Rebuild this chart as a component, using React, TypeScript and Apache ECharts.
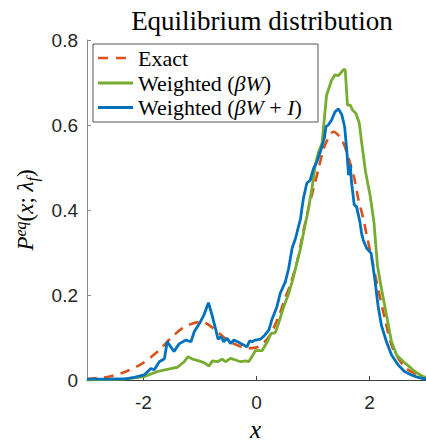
import React, { useEffect, useRef } from "react";
import * as echarts from "echarts";

// Exact equilibrium distribution (dashed orange)
const exactX = [-3.0, -2.87, -2.6, -2.31, -2.02, -1.75, -1.52, -1.31, -1.13, -0.96, -0.84, -0.66, -0.52, -0.34, -0.14, 0.01, 0.22, 0.39, 0.5, 0.6, 0.72, 0.83, 0.92, 1.01, 1.1, 1.19, 1.27, 1.36, 1.51, 1.63, 1.73, 1.8, 1.89, 1.95, 2.04, 2.15, 2.27, 2.39, 2.51, 2.65, 2.86, 3.0];
const exactY = [0.002, 0.004, 0.008, 0.02, 0.039, 0.067, 0.098, 0.122, 0.133, 0.137, 0.129, 0.11, 0.094, 0.082, 0.075, 0.077, 0.102, 0.149, 0.19, 0.225, 0.28, 0.35, 0.404, 0.451, 0.498, 0.545, 0.569, 0.584, 0.565, 0.522, 0.475, 0.427, 0.38, 0.341, 0.286, 0.216, 0.145, 0.082, 0.051, 0.027, 0.012, 0.006];

// Weighted (βW) (green)
const greenX = [-3.0, -2.34, -1.99, -1.75, -1.52, -1.4, -1.28, -1.21, -1.13, -1.02, -0.93, -0.84, -0.78, -0.69, -0.61, -0.55, -0.46, -0.37, -0.28, -0.19, -0.14, -0.08, -0.02, 0.1, 0.19, 0.26, 0.33, 0.39, 0.48, 0.56, 0.63, 0.72, 0.78, 0.86, 0.91, 0.98, 1.04, 1.1, 1.16, 1.24, 1.33, 1.39, 1.45, 1.54, 1.57, 1.61, 1.66, 1.7, 1.76, 1.82, 1.86, 1.93, 2.01, 2.08, 2.14, 2.21, 2.3, 2.39, 2.48, 2.6, 2.71, 2.8, 2.92, 3.0];
const greenY = [0.0, 0.002, 0.008, 0.02, 0.027, 0.03, 0.043, 0.055, 0.049, 0.045, 0.041, 0.033, 0.045, 0.043, 0.049, 0.043, 0.051, 0.047, 0.043, 0.045, 0.043, 0.055, 0.069, 0.069, 0.09, 0.11, 0.111, 0.133, 0.172, 0.2, 0.231, 0.278, 0.31, 0.365, 0.396, 0.45, 0.506, 0.537, 0.557, 0.67, 0.706, 0.718, 0.716, 0.73, 0.73, 0.647, 0.647, 0.635, 0.627, 0.604, 0.56, 0.49, 0.435, 0.37, 0.27, 0.216, 0.153, 0.09, 0.059, 0.043, 0.031, 0.02, 0.01, 0.005];

// Weighted (βW + I) (blue)
const blueX = [-3.0, -2.6, -2.3, -2.16, -1.99, -1.87, -1.81, -1.72, -1.63, -1.58, -1.46, -1.37, -1.25, -1.16, -1.1, -1.0, -0.93, -0.85, -0.78, -0.72, -0.68, -0.63, -0.58, -0.52, -0.46, -0.4, -0.31, -0.22, -0.17, -0.12, -0.08, -0.02, 0.07, 0.15, 0.22, 0.27, 0.36, 0.42, 0.51, 0.57, 0.63, 0.69, 0.78, 0.8, 0.83, 0.89, 0.95, 1.01, 1.07, 1.13, 1.2, 1.23, 1.27, 1.33, 1.39, 1.45, 1.51, 1.56, 1.6, 1.63, 1.66, 1.68, 1.73, 1.77, 1.83, 1.86, 1.89, 1.95, 2.03, 2.1, 2.15, 2.21, 2.3, 2.39, 2.51, 2.62, 2.74, 2.86, 2.95, 3.0];
const blueY = [0.002, 0.002, 0.003, 0.006, 0.012, 0.027, 0.024, 0.043, 0.05, 0.09, 0.067, 0.085, 0.094, 0.09, 0.114, 0.135, 0.153, 0.182, 0.149, 0.118, 0.096, 0.102, 0.09, 0.098, 0.086, 0.094, 0.088, 0.082, 0.078, 0.092, 0.09, 0.094, 0.096, 0.106, 0.118, 0.141, 0.172, 0.204, 0.231, 0.263, 0.31, 0.333, 0.38, 0.4, 0.427, 0.463, 0.47, 0.498, 0.514, 0.537, 0.569, 0.596, 0.6, 0.612, 0.631, 0.638, 0.624, 0.596, 0.537, 0.482, 0.506, 0.467, 0.412, 0.408, 0.372, 0.345, 0.329, 0.31, 0.298, 0.231, 0.176, 0.129, 0.09, 0.059, 0.035, 0.02, 0.012, 0.006, 0.003, 0.003];

const xTicks = [-2, 0, 2];
const legendNames = ["Exact", "Weighted (βW)", "Weighted (βW + I)"];

const ORANGE = "#D95319";
const GREEN = "#77AC30";
const BLUE = "#0072BD";
const SERIF = "'Liberation Serif', 'DejaVu Serif', serif";
const SANS = "'Liberation Sans', Arial, Helvetica, sans-serif";

const zip = (xs: number[], ys: number[]) => xs.map((x, i) => [x, ys[i]]);

export default function App() {
  const ref = useRef<HTMLDivElement>(null);
  useEffect(() => {
    if (!ref.current) return;
    const chart = echarts.init(ref.current, undefined, { renderer: "svg" });
    const lx0 = 98, lx1 = 133, tx = 138;
    const ly = [58, 83, 107.5];
    const mathRich = {
      r: { fontFamily: SERIF, fontSize: 22, color: "#000" },
      m: { fontFamily: SERIF, fontSize: 22, fontStyle: "italic", color: "#000" },
    };
    chart.setOption({
      animation: false,
      backgroundColor: "#fff",
      title: {
        text: "Equilibrium distribution",
        left: 257,
        textAlign: "center",
        top: 2,
        textStyle: { fontFamily: SERIF, fontSize: 27, fontWeight: "normal", color: "#000" },
      },
      grid: { left: 87, right: -1, top: 40, bottom: 62 },
      xAxis: {
        type: "value",
        min: -3,
        max: 3,
        axisLine: { show: true, onZero: false, lineStyle: { color: "#404040", width: 1 } },
        axisTick: { show: true, inside: true, length: 4, customValues: xTicks, lineStyle: { color: "#404040" } },
        axisLabel: { customValues: xTicks, color: "#262626", fontFamily: SANS, fontSize: 19, margin: 13 },
        splitLine: { show: false },
      },
      yAxis: {
        type: "value",
        min: 0,
        max: 0.8,
        interval: 0.2,
        name: "{i|P}{s|eq}{n|(}{i|x}{n|; }{i|λ}{b|f}{n|)}",
        nameLocation: "middle",
        nameRotate: 90,
        nameGap: 46,
        nameTextStyle: {
          rich: {
            i: { fontFamily: SERIF, fontStyle: "italic", fontSize: 23, color: "#000", lineHeight: 30 },
            n: { fontFamily: SERIF, fontSize: 23, color: "#000", lineHeight: 30 },
            s: { fontFamily: SERIF, fontStyle: "italic", fontSize: 16, color: "#000", lineHeight: 30, verticalAlign: "top", padding: [2, 0, 0, 0] },
            b: { fontFamily: SERIF, fontStyle: "italic", fontSize: 16, color: "#000", lineHeight: 30, verticalAlign: "bottom" },
          },
        },
        axisLine: { show: true, onZero: false, lineStyle: { color: "#8a8a8a", width: 1 } },
        axisTick: { show: true, inside: true, length: 4, lineStyle: { color: "#8a8a8a" } },
        axisLabel: { color: "#262626", fontFamily: SANS, fontSize: 19, margin: 9 },
        splitLine: { show: false },
      },
      series: [
        {
          name: legendNames[0],
          type: "line",
          data: zip(exactX, exactY),
          showSymbol: false,
          smooth: 0.3,
          lineStyle: { color: ORANGE, width: 2.6, type: [10, 7] },
          z: 2,
        },
        {
          name: legendNames[1],
          type: "line",
          data: zip(greenX, greenY),
          showSymbol: false,
          lineStyle: { color: GREEN, width: 2.8 },
          z: 3,
        },
        {
          name: legendNames[2],
          type: "line",
          data: zip(blueX, blueY),
          showSymbol: false,
          lineStyle: { color: BLUE, width: 2.8 },
          z: 4,
        },
      ],
      graphic: [
        {
          type: "text",
          left: 250,
          top: 417,
          style: { text: "x", fontFamily: SERIF, fontStyle: "italic", fontSize: 25, fill: "#000" },
        },
        {
          type: "group",
          z: 100,
          children: [
            { type: "rect", shape: { x: 93, y: 44, width: 225, height: 78 }, style: { fill: "#fff", stroke: "#555", lineWidth: 1 } },
            { type: "line", shape: { x1: lx0, y1: ly[0], x2: lx1, y2: ly[0] }, style: { stroke: ORANGE, lineWidth: 2.6, lineDash: [10, 8] } },
            { type: "line", shape: { x1: lx0, y1: ly[1], x2: lx1, y2: ly[1] }, style: { stroke: GREEN, lineWidth: 2.8 } },
            { type: "line", shape: { x1: lx0, y1: ly[2], x2: lx1, y2: ly[2] }, style: { stroke: BLUE, lineWidth: 2.8 } },
            { type: "text", x: tx, y: ly[0], style: { text: "{r|Exact}", rich: mathRich, verticalAlign: "middle" } },
            { type: "text", x: tx, y: ly[1], style: { text: "{r|Weighted (}{m|βW}{r|)}", rich: mathRich, verticalAlign: "middle" } },
            { type: "text", x: tx, y: ly[2], style: { text: "{r|Weighted (}{m|βW}{r| + }{m|I}{r|)}", rich: mathRich, verticalAlign: "middle" } },
          ],
        },
      ],
    });
    return () => chart.dispose();
  }, []);
  return <div ref={ref} style={{ position: "fixed", left: 0, top: 0, width: 426, height: 442 }} />;
}
